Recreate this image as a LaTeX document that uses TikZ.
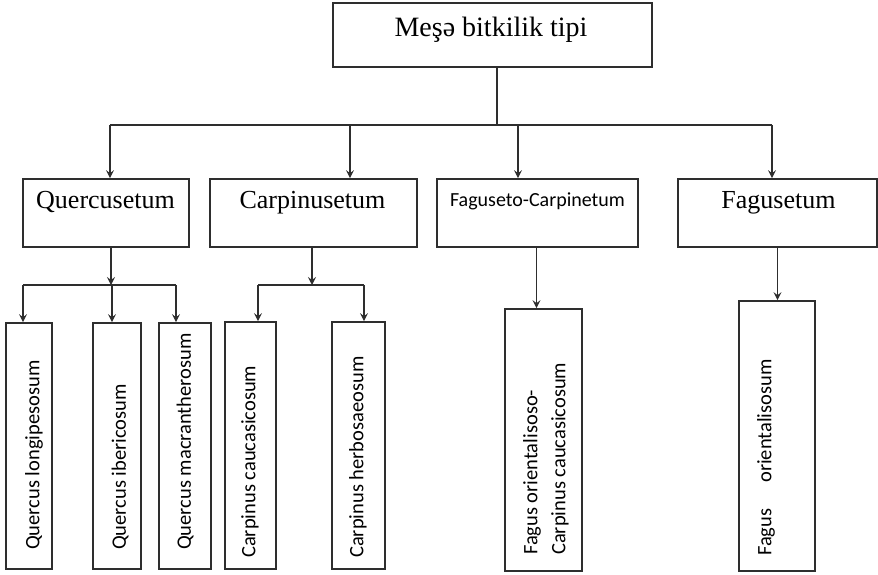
\documentclass[tikz,border=0pt]{standalone}
\usepackage{fontspec}
\setmainfont{Liberation Serif}
\newfontfamily\carlito{Carlito}
\usetikzlibrary{arrows.meta}
\definecolor{ink}{HTML}{2E2E2E}
\begin{document}
\begin{tikzpicture}[x=1pt,y=-1pt,
  box/.style={draw=ink, line width=1.7pt, rectangle, inner sep=0pt},
  ttl/.style={anchor=base, inner sep=0pt, font=\fontsize{26}{30}\selectfont},
  leaf/.style={anchor=west, rotate=90, inner sep=0pt, font=\carlito\fontsize{20.5}{28}\selectfont},
  conn/.style={draw=ink, line width=1.6pt},
  arr/.style={conn, -{Stealth[length=8pt,width=8pt,inset=3pt]}}]
\useasboundingbox (0,0) rectangle (878,575);
% top
\node[box, minimum width=319pt, minimum height=64pt] (top) at (492.5,35) {};
\node[ttl, font=\fontsize{28}{32}\selectfont] (ttop) at (491,37) {Meşə bitkilik tipi};
% tier 2
\node[box, minimum width=166pt, minimum height=68pt] (Q) at (106,213) {};
\node[ttl] (tQ) at (105.5,208) {Quercusetum};
\node[box, minimum width=207pt, minimum height=68pt] (C) at (313.5,213) {};
\node[ttl] (tC) at (312.5,208) {Carpinusetum};
\node[box, minimum width=201pt, minimum height=68pt] (FC) at (537.5,213) {};
\node[ttl, font=\carlito\fontsize{20}{24}\selectfont] (tFC) at (537.5,206) {Faguseto-Carpinetum};
\node[box, minimum width=199pt, minimum height=68pt] (F) at (777.5,213) {};
\node[ttl] (tF) at (778.5,208) {Fagusetum};
% leaves
\node[box, minimum width=46pt, minimum height=246pt] (QL) at (29,446) {};
\node[leaf] (tQL) at (34,550) {Quercus longipesosum};
\node[box, minimum width=48pt, minimum height=246pt] (QI) at (117,446) {};
\node[leaf] (tQI) at (120,550) {Quercus ibericosum};
\node[box, minimum width=52pt, minimum height=246pt] (QM) at (185,446) {};
\node[leaf] (tQM) at (185,550) {Quercus macrantherosum};
\node[box, minimum width=51pt, minimum height=247pt] (CC) at (250.5,445.5) {};
\node[leaf] (tCC) at (250,558) {Carpinus caucasicosum};
\node[box, minimum width=53pt, minimum height=247pt] (CH) at (358.5,445.5) {};
\node[leaf] (tCH) at (358,558) {Carpinus herbosaeosum};
\node[box, minimum width=77pt, minimum height=262pt] (FOC) at (543.5,440) {};
\node[leaf, align=left] (tFOC) at (546,555) {Fagus orientalisoso-\\Carpinus caucasicosum};
\node[box, minimum width=76pt, minimum height=270pt] (FO) at (777,436) {};
\node[leaf] (tFO) at (766,556) {Fagus\hspace{26pt}orientalisosum};
% connectors: top level
\coordinate (hub) at (497,125);
\coordinate (hQ) at (110,125);
\coordinate (hC) at (350,125);
\coordinate (hFC) at (518,125);
\coordinate (hF) at (772,125);
\draw[conn] (top.south -| hub) -- (hub);
\draw[conn] (hQ) -- (hF);
\draw[arr] (hQ) -- (hQ |- Q.north);
\draw[arr] (hC) -- (hC |- C.north);
\draw[arr] (hFC) -- (hFC |- FC.north);
\draw[arr] (hF) -- (hF |- F.north);
% Quercusetum branch
\coordinate (qhub) at (111,285);
\coordinate (q1) at (23,285);
\coordinate (q2) at (112,285);
\coordinate (q3) at (176,285);
\draw[arr] (Q.south -| qhub) -- (qhub);
\draw[conn] (q1) -- (q3);
\draw[arr] (q1) -- (q1 |- QL.north);
\draw[arr] (q2) -- (q2 |- QI.north);
\draw[arr] (q3) -- (q3 |- QM.north);
% Carpinusetum branch
\coordinate (chub) at (312,285);
\coordinate (c1) at (258,285);
\coordinate (c2) at (364,285);
\draw[arr] (C.south -| chub) -- (chub);
\draw[conn] (c1) -- (c2);
\draw[arr] (c1) -- (c1 |- CC.north);
\draw[arr] (c2) -- (c2 |- CH.north);
% Faguseto-Carpinetum and Fagusetum
\coordinate (fc) at (536.5,247);
\coordinate (f) at (777.5,247);
\draw[arr] (FC.south -| fc) -- (fc |- FOC.north);
\draw[arr] (F.south -| f) -- (f |- FO.north);
\end{tikzpicture}
\end{document}
